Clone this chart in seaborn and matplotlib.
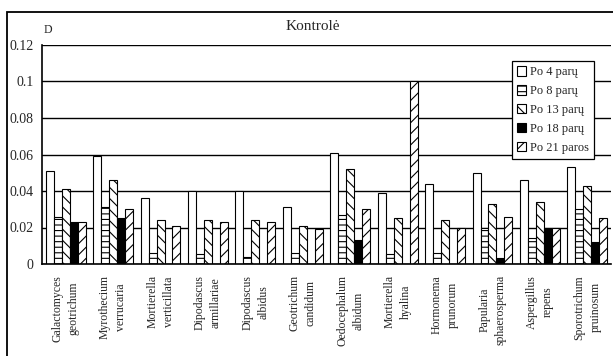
import matplotlib
matplotlib.use("Agg")
import matplotlib.pyplot as plt
from matplotlib.patches import Patch, Rectangle
import numpy as np
import pandas as pd
import seaborn as sns

species = [
    "Galactomyces\ngeotrichum", "Myrothecium\nverrucaria", "Mortierella\nverticillata",
    "Dipodascus\narmillariae", "Dipodascus\nalbidus", "Geotrichum\ncandidum",
    "Oedocephalum\nalbidum", "Mortierella\nhyalina", "Hormonema\nprunorum",
    "Papularia\nsphaerosperma", "Aspergillus\nrepens", "Sporotrichum\npruinosum",
]
periods = ["Po 4 parų", "Po 8 parų", "Po 13 parų", "Po 18 parų", "Po 21 paros"]

po4 = [0.051, 0.059, 0.036, 0.040, 0.040, 0.031, 0.061, 0.039, 0.044, 0.050, 0.046, 0.053]
po8 = [0.026, 0.031, 0.006, 0.0055, 0.004, 0.006, 0.027, 0.0055, 0.006, 0.020, 0.014, 0.030]
po13 = [0.041, 0.046, 0.024, 0.024, 0.024, 0.021, 0.052, 0.025, 0.024, 0.033, 0.034, 0.043]
po18 = [0.023, 0.025, 0.0, 0.0, 0.0, 0.0, 0.013, 0.0, 0.0, 0.0035, 0.020, 0.012]
po21 = [0.023, 0.030, 0.021, 0.023, 0.023, 0.019, 0.030, 0.100, 0.020, 0.026, 0.020, 0.025]

yticks = [0, 0.02, 0.04, 0.06, 0.08, 0.1, 0.12]
ytick_labels = ["0", "0.02", "0.04", "0.06", "0.08", "0.1", "0.12"]

series = [po4, po8, po13, po18, po21]
df = pd.DataFrame({
    "species": np.repeat([species], len(periods), axis=0).ravel(),
    "period": np.repeat(periods, len(species)),
    "value": np.concatenate(series),
})

fills = {"Po 4 parų": "white", "Po 8 parų": "white", "Po 13 parų": "white",
         "Po 18 parų": "black", "Po 21 paros": "white"}
hatches = {"Po 4 parų": "", "Po 8 parų": "---", "Po 13 parų": "\\\\\\",
           "Po 18 parų": "", "Po 21 paros": "///"}

sns.set_style("white")
plt.rcParams["font.family"] = ["Liberation Serif", "DejaVu Serif"]
plt.rcParams["hatch.linewidth"] = 0.8
plt.rcParams["hatch.color"] = "black"

fig = plt.figure(figsize=(6.13, 3.56), dpi=100)
ax = fig.add_axes([42 / 613, 1 - 264 / 356, (611 - 42) / 613, (264 - 45) / 356])

sns.barplot(data=df, x="species", y="value", hue="period", hue_order=periods,
            order=species, palette=fills, width=0.84, edgecolor="black",
            linewidth=0.8, legend=False, ax=ax)

for container, p in zip(ax.containers, periods):
    for bar in container:
        bar.set_hatch(hatches[p])
        bar.set_edgecolor("black")

ax.set_ylim(0, 0.12)
ax.set_xlim(-0.5, len(species) - 0.5)
ax.set_yticks(yticks)
ax.set_yticklabels(ytick_labels, fontsize=10)
ax.set_axisbelow(True)
ax.yaxis.grid(True, color="black", linewidth=1.0)
ax.xaxis.grid(False)

ax.set_xticks(np.arange(len(species)))
ax.set_xticklabels(species, rotation=90, fontsize=8.5, linespacing=1.45,
                   va="top", ha="center")
ax.tick_params(axis="x", length=0, pad=8)
ax.set_xticks(np.arange(len(species) + 1) - 0.5, minor=True)
ax.tick_params(axis="x", which="minor", length=4, width=0.9, color="black", direction="out")
ax.tick_params(axis="y", length=4, width=0.9, color="black", direction="out", pad=2)
ax.set_xlabel("")
ax.set_ylabel("")

for side in ["left", "bottom"]:
    ax.spines[side].set_color("black")
    ax.spines[side].set_linewidth(1.2)
ax.spines["right"].set_visible(False)
ax.spines["top"].set_visible(False)

handles = [Patch(facecolor=fills[p], edgecolor="black", hatch=hatches[p], linewidth=0.8)
           for p in periods]
leg = ax.legend(handles, periods, loc="upper left", bbox_to_anchor=(0.826, 0.925),
                fontsize=9, frameon=True, fancybox=False, framealpha=1,
                edgecolor="black", handlelength=0.75, handleheight=0.75,
                handletextpad=0.3, borderpad=0.4, labelspacing=0.55,
                borderaxespad=0)
leg.get_frame().set_linewidth(0.9)

fig.text(313 / 613, 1 - 27 / 356, "Kontrolė", fontsize=11, ha="center", va="center")
fig.text(48 / 613, 1 - 30 / 356, "D", fontsize=8.5, ha="center", va="center")

fig.patches.append(Rectangle((7 / 613, -0.2), 2, 1 - 12 / 356 + 0.2,
                             transform=fig.transFigure, fill=False,
                             edgecolor="black", linewidth=1.3, zorder=0))

fig.savefig("out.png", dpi=100)
